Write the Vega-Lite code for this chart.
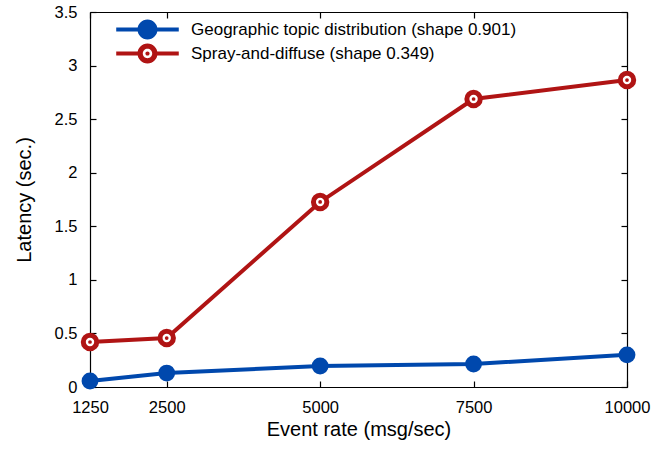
{
  "$schema": "https://vega.github.io/schema/vega-lite/v6.json",
  "width": 537,
  "height": 375,
  "autosize": "none",
  "padding": {"left": 90, "top": 12, "right": 36, "bottom": 66},
  "background": "white",
  "config": {
    "font": "Liberation Sans",
    "view": {"stroke": null},
    "axis": {
      "grid": false,
      "domainColor": "black",
      "tickColor": "black",
      "labelColor": "black",
      "titleColor": "black",
      "labelFont": "Liberation Sans",
      "titleFont": "Liberation Sans",
      "labelFontSize": 16.5,
      "titleFontSize": 20,
      "titleFontWeight": "normal",
      "tickSize": -6,
      "domainWidth": 1.2,
      "tickWidth": 1.2,
      "labelFlush": false
    }
  },
  "data": {
    "values": [
      {"rate": 1250, "latency": 0.056, "series": "Geographic topic distribution (shape 0.901)"},
      {"rate": 2500, "latency": 0.13, "series": "Geographic topic distribution (shape 0.901)"},
      {"rate": 5000, "latency": 0.196, "series": "Geographic topic distribution (shape 0.901)"},
      {"rate": 7500, "latency": 0.215, "series": "Geographic topic distribution (shape 0.901)"},
      {"rate": 10000, "latency": 0.30, "series": "Geographic topic distribution (shape 0.901)"},
      {"rate": 1250, "latency": 0.42, "series": "Spray-and-diffuse (shape 0.349)"},
      {"rate": 2500, "latency": 0.457, "series": "Spray-and-diffuse (shape 0.349)"},
      {"rate": 5000, "latency": 1.727, "series": "Spray-and-diffuse (shape 0.349)"},
      {"rate": 7500, "latency": 2.688, "series": "Spray-and-diffuse (shape 0.349)"},
      {"rate": 10000, "latency": 2.865, "series": "Spray-and-diffuse (shape 0.349)"}
    ]
  },
  "resolve": {"axis": {"x": "independent", "y": "independent"}},
  "layer": [
    {
      "transform": [{"filter": "datum.series === 'Geographic topic distribution (shape 0.901)'"}],
      "mark": {"type": "line", "strokeWidth": 4, "clip": false, "color": "#0048ad"},
      "encoding": {
        "x": {"field": "rate", "type": "quantitative",
              "scale": {"domain": [1250, 10000], "nice": false, "zero": false},
              "axis": {"orient": "bottom", "values": [1250, 2500, 5000, 7500, 10000], "format": "d",
                       "title": "Event rate (msg/sec)", "labelPadding": 18, "titlePadding": 4}},
        "y": {"field": "latency", "type": "quantitative",
              "scale": {"domain": [0, 3.5], "nice": false},
              "axis": {"orient": "left", "values": [0, 0.5, 1, 1.5, 2, 2.5, 3, 3.5], "format": "~g",
                       "title": "Latency (sec.)", "labelPadding": 19, "titlePadding": 20}}
      }
    },
    {
      "transform": [{"filter": "datum.series === 'Spray-and-diffuse (shape 0.349)'"}],
      "mark": {"type": "line", "strokeWidth": 4, "clip": false, "color": "#b01414"},
      "encoding": {
        "x": {"field": "rate", "type": "quantitative", "axis": null},
        "y": {"field": "latency", "type": "quantitative", "axis": null}
      }
    },
    {
      "transform": [{"filter": "datum.series === 'Geographic topic distribution (shape 0.901)'"}],
      "mark": {"type": "point", "shape": "circle", "filled": true, "size": 283, "opacity": 1, "clip": false, "color": "#0048ad"},
      "encoding": {
        "x": {"field": "rate", "type": "quantitative", "axis": null},
        "y": {"field": "latency", "type": "quantitative", "axis": null}
      }
    },
    {
      "transform": [{"filter": "datum.series === 'Spray-and-diffuse (shape 0.349)'"}],
      "mark": {"type": "point", "shape": "circle", "filled": false, "fill": "white", "fillOpacity": 1, "strokeWidth": 5, "size": 180, "opacity": 1, "clip": false, "stroke": "#b01414"},
      "encoding": {
        "x": {"field": "rate", "type": "quantitative", "axis": null},
        "y": {"field": "latency", "type": "quantitative", "axis": null}
      }
    },
    {
      "transform": [{"filter": "datum.series === 'Spray-and-diffuse (shape 0.349)'"}],
      "mark": {"type": "point", "shape": "circle", "filled": true, "size": 14, "opacity": 1, "clip": false, "color": "#b01414"},
      "encoding": {
        "x": {"field": "rate", "type": "quantitative", "axis": null},
        "y": {"field": "latency", "type": "quantitative", "axis": null}
      }
    },
    {
      "transform": [{"filter": "false"}],
      "mark": {"type": "point", "filled": true, "size": 264, "opacity": 1},
      "encoding": {
        "x": {"field": "rate", "type": "quantitative",
              "axis": {"orient": "top", "values": [1250, 2500, 5000, 7500, 10000], "labels": false, "title": null}},
        "y": {"field": "latency", "type": "quantitative",
              "axis": {"orient": "right", "values": [0, 0.5, 1, 1.5, 2, 2.5, 3, 3.5], "labels": false, "title": null}},
        "color": {"field": "series", "type": "nominal",
                  "scale": {"domain": ["Geographic topic distribution (shape 0.901)", "Spray-and-diffuse (shape 0.349)"],
                            "range": ["#0048ad", "#b01414"]},
                  "legend": {"title": null, "orient": "none", "legendX": 49, "legendY": 9, "padding": 0,
                             "labelFontSize": 17, "labelFont": "Liberation Sans", "labelColor": "black",
                             "labelOffset": 35, "rowPadding": 3, "symbolOpacity": 1, "symbolStrokeWidth": 0,
                             "symbolSize": 264, "labelLimit": 400}},
        "shape": {"field": "series", "type": "nominal",
                  "scale": {"domain": ["Geographic topic distribution (shape 0.901)", "Spray-and-diffuse (shape 0.349)"],
                            "range": [
                              "M-3.85,-0.25 H3.85 V0.25 H-3.85 Z M1.23,0 A1.23,1.23 0 1,1 -1.23,0 A1.23,1.23 0 1,1 1.23,0 Z",
                              "M-3.85,-0.25 H-1 V0.25 H-3.85 Z M1,-0.25 H3.85 V0.25 H1 Z M1.23,0 A1.23,1.23 0 1,1 -1.23,0 A1.23,1.23 0 1,1 1.23,0 Z M0.58,0 A0.58,0.58 0 1,0 -0.58,0 A0.58,0.58 0 1,0 0.58,0 Z M0.26,0 A0.26,0.26 0 1,1 -0.26,0 A0.26,0.26 0 1,1 0.26,0 Z"
                            ]},
                  "legend": {"title": null}}
      }
    }
  ]
}
